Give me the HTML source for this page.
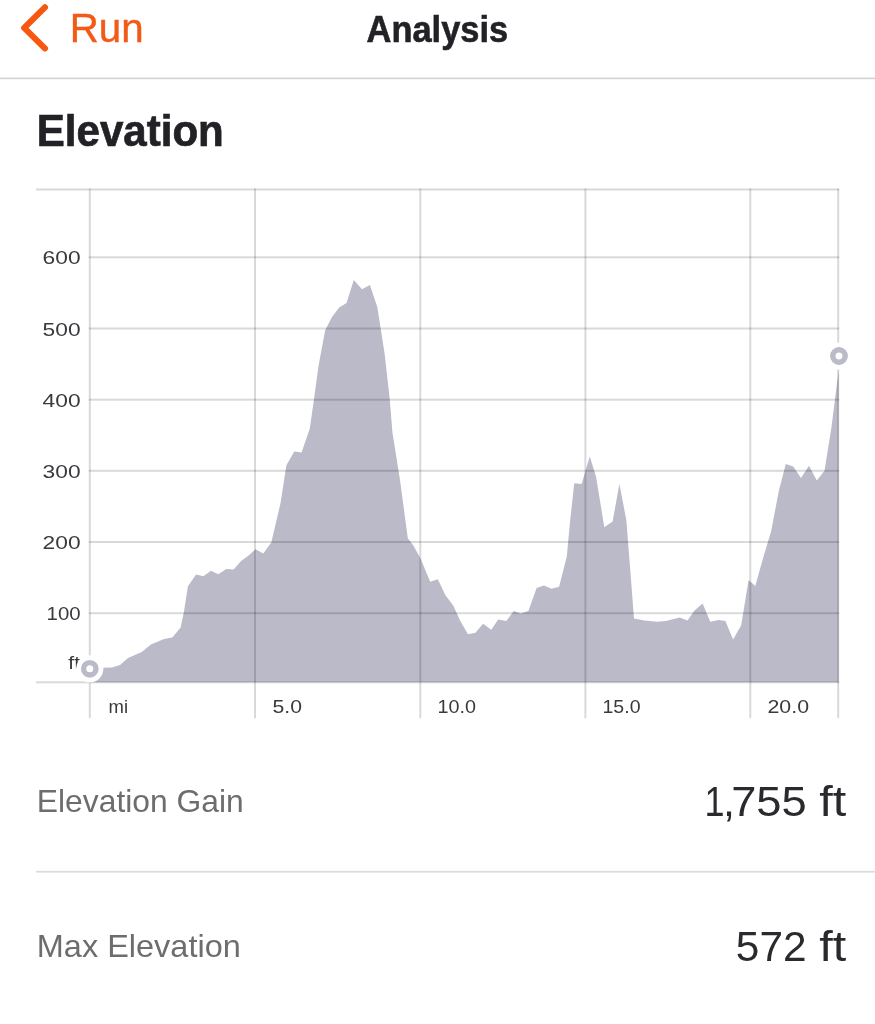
<!DOCTYPE html>
<html><head><meta charset="utf-8"><title>Analysis</title>
<style>
html,body{margin:0;padding:0;background:#fff;}
body{width:875px;height:1024px;overflow:hidden;font-family:"Liberation Sans",sans-serif;}
svg{display:block;will-change:transform;}
text{font-family:"Liberation Sans",sans-serif;}
</style></head><body>
<svg width="875" height="1024" viewBox="0 0 875 1024">
<rect width="875" height="1024" fill="#fff"/>
<!-- header -->
<path d="M44.9,7.4 L24.2,27.9 L44.9,48.4" fill="none" stroke="#f8570f" stroke-width="6.2" stroke-linecap="round" stroke-linejoin="round"/>
<text x="69.7" y="42.4" font-size="41" fill="#f25a16" stroke="#f25a16" stroke-width="0.4" textLength="73.9" lengthAdjust="spacingAndGlyphs">Run</text>
<text x="366.6" y="42.3" font-size="36.7" font-weight="bold" fill="#222226" stroke="#222226" stroke-width="0.6" textLength="141.5" lengthAdjust="spacingAndGlyphs">Analysis</text>
<rect x="0" y="77.6" width="875" height="1.6" fill="#d2d2d4"/>
<text x="36.8" y="145.9" font-size="44" font-weight="bold" fill="#222226" stroke="#222226" stroke-width="0.7" textLength="187" lengthAdjust="spacingAndGlyphs">Elevation</text>
<!-- chart -->
<path d="M90,682.3 L90.0,668.0 L112.0,667.4 L120.0,665.0 L128.0,658.0 L141.7,652.0 L150.9,644.6 L163.4,639.3 L172.6,637.3 L180.6,627.4 L184.0,611.4 L187.9,586.3 L196.1,574.4 L203.4,576.2 L211.0,570.7 L218.3,574.2 L226.3,569.1 L233.6,569.6 L241.1,561.1 L248.0,556.1 L255.5,549.3 L263.3,553.6 L271.3,542.5 L280.5,503.3 L286.4,465.2 L294.3,451.4 L301.6,452.6 L309.8,428.6 L314.2,397.8 L318.6,365.5 L325.1,330.4 L331.8,317.2 L339.2,307.5 L346.5,303.1 L353.8,279.9 L362.0,289.3 L369.9,284.9 L377.3,306.9 L384.6,353.8 L389.6,397.8 L392.5,433.0 L400.0,479.9 L407.8,538.3 L413.0,545.0 L420.2,557.8 L430.2,581.8 L437.8,579.3 L445.3,595.0 L453.5,605.9 L460.3,621.0 L468.0,634.2 L475.4,632.8 L483.1,623.8 L491.3,629.8 L498.2,619.6 L506.4,621.0 L513.8,610.9 L520.7,613.6 L528.4,610.9 L536.6,588.1 L544.0,585.4 L551.4,588.7 L559.1,586.7 L566.8,556.6 L570.0,522.3 L574.2,483.3 L581.6,483.9 L589.8,456.5 L596.1,477.0 L604.3,527.2 L612.6,521.5 L619.4,483.9 L626.3,520.0 L630.4,571.7 L634.0,618.6 L644.6,620.4 L656.9,621.8 L665.7,621.1 L679.7,617.6 L687.5,620.4 L694.5,610.6 L702.6,603.5 L710.3,621.8 L718.4,620.0 L725.4,621.1 L733.1,639.4 L741.2,625.3 L748.6,580.0 L755.3,586.0 L763.4,557.1 L771.1,531.5 L778.8,491.1 L785.8,464.0 L793.2,466.5 L801.0,478.1 L809.0,465.8 L816.8,480.5 L824.5,470.7 L831.4,427.8 L838.7,369.9 L838.7,682.3 Z" fill="#babac8"/>
<g fill="#000" fill-opacity="0.15">
<rect x="36" y="188.5" width="803.2" height="2"/>
<rect x="36" y="681.3" width="803.2" height="2"/>
<rect x="88.8" y="256.3" width="750.4" height="2"/>
<rect x="88.8" y="327.5" width="750.4" height="2"/>
<rect x="88.8" y="398.7" width="750.4" height="2"/>
<rect x="88.8" y="469.8" width="750.4" height="2"/>
<rect x="88.8" y="541.0" width="750.4" height="2"/>
<rect x="88.8" y="612.2" width="750.4" height="2"/>
<rect x="88.8" y="188.5" width="2" height="529.7"/>
<rect x="254.0" y="188.5" width="2" height="529.7"/>
<rect x="419.3" y="188.5" width="2" height="529.7"/>
<rect x="584.4" y="188.5" width="2" height="529.7"/>
<rect x="749.3" y="188.5" width="2" height="529.7"/>
<rect x="837.2" y="188.5" width="2" height="529.7"/>
</g>
<g font-size="19" fill="#3a3a3e">
<text x="80.6" y="264.3" text-anchor="end" textLength="38" lengthAdjust="spacingAndGlyphs">600</text>
<text x="80.6" y="335.5" text-anchor="end" textLength="38" lengthAdjust="spacingAndGlyphs">500</text>
<text x="80.6" y="406.7" text-anchor="end" textLength="38" lengthAdjust="spacingAndGlyphs">400</text>
<text x="80.6" y="477.8" text-anchor="end" textLength="38" lengthAdjust="spacingAndGlyphs">300</text>
<text x="80.6" y="549.0" text-anchor="end" textLength="38" lengthAdjust="spacingAndGlyphs">200</text>
<text x="80.6" y="620.2" text-anchor="end" textLength="34" lengthAdjust="spacingAndGlyphs">100</text>
<text x="80" y="669.3" text-anchor="end" textLength="11.7" lengthAdjust="spacingAndGlyphs">ft</text>
<text x="108.5" y="713.4" textLength="19.5" lengthAdjust="spacingAndGlyphs">mi</text>
<text x="272.5" y="713.4" textLength="29.5" lengthAdjust="spacingAndGlyphs">5.0</text>
<text x="437.5" y="713.4" textLength="38.5" lengthAdjust="spacingAndGlyphs">10.0</text>
<text x="602.5" y="713.4" textLength="38.0" lengthAdjust="spacingAndGlyphs">15.0</text>
<text x="767.5" y="713.4" textLength="41.5" lengthAdjust="spacingAndGlyphs">20.0</text>
</g>
<!-- markers -->
<g>
<circle cx="89.8" cy="668.8" r="13.6" fill="#fff"/>
<circle cx="89.8" cy="668.8" r="6.2" fill="#fff" stroke="#babac8" stroke-width="5.4"/>
<circle cx="839" cy="356" r="13.6" fill="#fff"/>
<circle cx="839" cy="356" r="6.2" fill="#fff" stroke="#babac8" stroke-width="5.4"/>
</g>
<!-- stats -->
<text x="36.8" y="812.3" font-size="32" fill="#6d6d70" textLength="207" lengthAdjust="spacingAndGlyphs">Elevation Gain</text>
<g font-size="43" fill="#2a2a2e">
<text x="704.5" y="815.7" textLength="20" lengthAdjust="spacingAndGlyphs">1</text>
<text x="723" y="815.7">,</text>
<text x="731.2" y="815.7" textLength="75.5" lengthAdjust="spacingAndGlyphs">755</text>
<text x="819.3" y="815.7" textLength="27" lengthAdjust="spacingAndGlyphs">ft</text>
<text x="735.8" y="960.6" textLength="70.8" lengthAdjust="spacingAndGlyphs">572</text>
<text x="819.3" y="960.6" textLength="27" lengthAdjust="spacingAndGlyphs">ft</text>
</g>
<rect x="36" y="870.8" width="839" height="1.8" fill="#dcdce0"/>
<text x="36.8" y="957.1" font-size="32" fill="#6d6d70" textLength="204" lengthAdjust="spacingAndGlyphs">Max Elevation</text>
</svg>
</body></html>
